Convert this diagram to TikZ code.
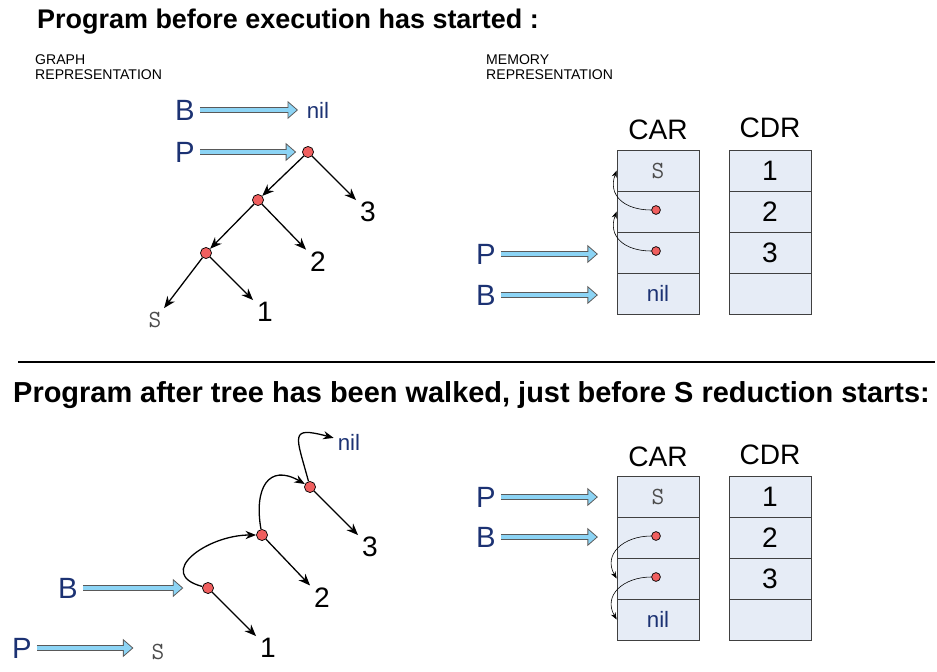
\documentclass[tikz,border=0pt]{standalone}
\usepackage{fontspec}
\setmainfont{Liberation Sans}
\usetikzlibrary{arrows.meta}
\definecolor{navy}{RGB}{28,50,115}
\definecolor{ptrblue}{RGB}{140,212,245}
\definecolor{cellfill}{RGB}{230,236,246}
\definecolor{dotred}{RGB}{240,95,95}

\begin{document}
\begin{tikzpicture}[
    x=0.03cm, y=-0.03cm,
    title/.style={anchor=west, inner sep=0, font=\fontsize{23}{25}\selectfont\bfseries},
    caption/.style={anchor=north west, align=left, inner sep=0, font=\fontsize{12}{13}\selectfont},
    reg/.style={text=navy, font=\fontsize{25}{26}\selectfont},
    val/.style={font=\fontsize{24}{25}\selectfont},
    sym/.style={text=black!70, font=\fontsize{21}{22}\selectfont\ttfamily},
    nilv/.style={text=navy, font=\fontsize{19}{20}\selectfont},
    hdr/.style={font=\fontsize{24}{25}\selectfont},
    dot/.style={circle, draw=black, fill=dotred, line width=0.6pt, minimum size=9.5pt, inner sep=0},
    cdot/.style={dot, minimum size=7.5pt},
    cell/.style={rectangle, draw=black!75, fill=cellfill, line width=0.6pt, minimum width=2.46cm, minimum height=1.23cm},
    ptr/.style={preaction={draw=black!65, line width=5pt, -{Triangle[length=9pt,width=15pt]}, shorten >=#1},
        draw=ptrblue, line width=3.4pt, -{Triangle[length=6.95pt,width=11.6pt]}, shorten >=#1+1.25pt, shorten <=0.8pt},
    ptr/.default=4pt,
    edge/.style={-{Stealth[length=10pt,width=8pt]}, line width=1.1pt},
    walk/.style={-{Stealth[length=9pt,width=7pt]}, line width=1.1pt},
    back/.style={-{Stealth[length=6pt,width=4.5pt]}, line width=0.5pt},
]
\useasboundingbox (0,0) rectangle (937,671);

% Titles
\node[title] (head1) at (37,22) {Program before execution has started :};
\node[caption] (cap1) at (35,54) {GRAPH\\REPRESENTATION};
\node[caption] (cap2) at (486,54) {MEMORY\\REPRESENTATION};

% Define nodes: graph before execution
\node[reg] (B1) at (185,110) {B};
\node[nilv] (nil1) at (318,110) {nil};
\node[reg] (P1) at (185,152) {P};
\node[dot] (n1) at (308,152) {};
\node[dot] (n2) at (258,200) {};
\node[dot] (n3) at (206,253) {};
\node[val] (t3) at (368,212) {3};
\node[val] (t2) at (318,262) {2};
\node[val] (t1) at (265,312) {1};
\node[sym] (tS) at (155,320) {S};

% Define nodes: memory before execution
\node[hdr] (carh1) at (658,130) {CAR};
\node[hdr] (cdrh1) at (770,128) {CDR};
\node[cell, sym] (car11) at (658,170.5) {S};
\node[cell] (car12) at (658,211.5) {};
\node[cell] (car13) at (658,252.5) {};
\node[cell, nilv] (car14) at (658,293.5) {nil};
\node[cell, val] (cdr11) at (770,170.5) {1};
\node[cell, val] (cdr12) at (770,211.5) {2};
\node[cell, val] (cdr13) at (770,252.5) {3};
\node[cell] (cdr14) at (770,293.5) {};
\node[cdot] (p11) at (656,210) {};
\node[cdot] (p12) at (656,251) {};
\node[reg] (P3) at (486,254) {P};
\node[reg] (B3) at (486,295) {B};

% Draw connections
\draw[ptr] (B1) -- (nil1);
\draw[ptr=5pt] (P1) -- (n1);
\draw[edge] (n1) -- (t3);
\draw[edge] (n1) -- (n2);
\draw[edge] (n2) -- (t2);
\draw[edge] (n2) -- (n3);
\draw[edge] (n3) -- (t1);
\draw[edge] (n3) -- (tS);
\draw[back] (p11) to[out=180, in=-110, looseness=1.3] (car11.west);
\draw[back] (p12) to[out=180, in=-110, looseness=1.3] (car12.west);
\draw[ptr=16pt] (P3) -- (P3 -| car13.west);
\draw[ptr=16pt] (B3) -- (B3 -| car14.west);

% Separator
\draw[line width=1.2pt] (18,362) -- (935,362);

% Titles
\node[title, font=\fontsize{24.7}{26}\selectfont\bfseries] (head2) at (13,395) {Program after tree has been walked, just before S reduction starts:};

% Define nodes: graph after walk
\node[dot] (m1) at (310,487) {};
\node[dot] (m2) at (262,535) {};
\node[dot] (m3) at (208,588) {};
\node[nilv] (nil2) at (349,442) {nil};
\node[val] (u3) at (370,547) {3};
\node[val] (u2) at (322,598) {2};
\node[val] (u1) at (268,648) {1};
\node[reg] (B2) at (68,588) {B};
\node[reg] (P2) at (22,648) {P};
\node[sym] (uS) at (158,652) {S};

% Define nodes: memory after walk
\node[hdr] (carh2) at (658,457) {CAR};
\node[hdr] (cdrh2) at (770,455) {CDR};
\node[cell, sym] (car21) at (658,496.5) {S};
\node[cell] (car22) at (658,537.5) {};
\node[cell] (car23) at (658,578.5) {};
\node[cell, nilv] (car24) at (658,619.5) {nil};
\node[cell, val] (cdr21) at (770,496.5) {1};
\node[cell, val] (cdr22) at (770,537.5) {2};
\node[cell, val] (cdr23) at (770,578.5) {3};
\node[cell] (cdr24) at (770,619.5) {};
\node[cdot] (p21) at (656,536) {};
\node[cdot] (p22) at (656,577) {};
\node[reg] (P4) at (486,497) {P};
\node[reg] (B4) at (486,537) {B};

% Draw connections
\draw[edge] (m1) -- (u3);
\draw[edge] (m2) -- (u2);
\draw[edge] (m3) -- (u1);
\draw[walk] (m3) to[out=165, in=180, looseness=1.7] (m2);
\draw[walk] (m2) to[out=100, in=150, looseness=1.7] (m1);
\draw[walk] (m1) to[out=105, in=165, looseness=2.4] (nil2);
\draw[ptr=16pt] (B2) -- (B2 -| m3.west);
\draw[ptr=12pt] (P2) -- (P2 -| uS.west);
\draw[back] (p21) to[out=180, in=120, looseness=1.3] (car23.west);
\draw[back] (p22) to[out=180, in=120, looseness=1.3] (car24.west);
\draw[ptr=16pt] (P4) -- (P4 -| car21.west);
\draw[ptr=16pt] (B4) -- (B4 -| car22.west);

\end{tikzpicture}
\end{document}
